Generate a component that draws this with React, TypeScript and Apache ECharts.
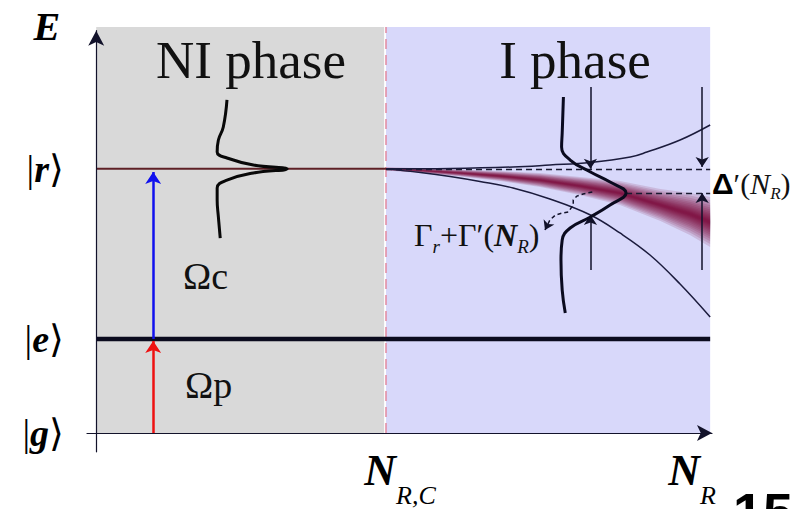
import { useEffect, useRef } from "react";
import * as echarts from "echarts";

const SERIF = '"Liberation Serif", "Times New Roman", serif';
const SANS = '"Liberation Sans", Arial, sans-serif';

// Energy scale: |g> = 0, |e> = 1, |r> sits higher up
const levelKeys = ["g", "e", "r"];
const levelEnergies = [0, 1, 2.81];

// Normalized Rydberg excitation number; N_R,C separates the two phases
const nRC = 0.472;
const nMax = 1;
const eTop = 4.32;
const nTickValues = [nRC, nMax];
const nTickSubs = ["R,C", "R"];

const phaseStarts = [0, 0.472];
const phaseEnds = [0.469, 1];
const phaseTitles = ["NI phase", "I phase"];

// Lorentzian line profile in the NI phase, [N_R, E]
const niProfile = [
  [0.213, 3.543], [0.207, 3.255], [0.199, 3.117], [0.197, 2.989], [0.213, 2.926],
  [0.256, 2.851], [0.311, 2.81], [0.256, 2.766], [0.213, 2.691], [0.197, 2.606],
  [0.197, 2.479], [0.199, 2.298], [0.202, 2.074],
];

// Shifted, broadened profile in the I phase
const iProfile = [
  [0.761, 3.574], [0.759, 3.191], [0.758, 3.043], [0.772, 2.904], [0.805, 2.777],
  [0.837, 2.67], [0.863, 2.553], [0.837, 2.426], [0.805, 2.298], [0.772, 2.181],
  [0.759, 2.053], [0.757, 1.84], [0.759, 1.521], [0.764, 1.277],
];

// Width envelope of the Rydberg line beyond N_R,C
const upperBranch = [
  [0.472, 2.81], [0.5765, 2.814], [0.679, 2.83], [0.739, 2.851], [0.805, 2.878],
  [0.87, 2.936], [0.897, 2.989], [0.951, 3.117], [1.0, 3.277],
];
const lowerBranch = [
  [0.472, 2.81], [0.528, 2.771], [0.5765, 2.729], [0.625, 2.676], [0.679, 2.606],
  [0.739, 2.489], [0.805, 2.319], [0.853, 2.128], [0.902, 1.894], [0.951, 1.585],
  [1.0, 1.234],
];

// Broadened Rydberg line: center and half-width along N_R
const bandN = [0.472, 0.528, 0.593, 0.658, 0.723, 0.788, 0.853, 0.919, 0.967, 1.0];
const bandCenter = [2.81, 2.793, 2.766, 2.734, 2.691, 2.628, 2.553, 2.426, 2.33, 2.245];
const bandHalfWidth = [0.016, 0.027, 0.037, 0.053, 0.074, 0.096, 0.128, 0.17, 0.223, 0.266];

// Laser couplings
const pumpN = 0.0928;
const probeArrow = [[pumpN, 0], [pumpN, 0.979]];
const couplingArrow = [[pumpN, 1], [pumpN, 2.777]];

// Shift / width markers in the I phase
const markerArrows = [
  [[0.805, 3.681], [0.805, 2.81]],
  [[0.805, 1.734], [0.805, 2.319]],
  [[0.987, 3.681], [0.987, 2.83]],
  [[0.987, 1.734], [0.987, 2.553]],
];
const shiftGuides = [
  [[0.472, 2.81], [1.0, 2.81]],
  [[0.863, 2.553], [1.0, 2.553]],
];
const widthPointer = [
  [0.808, 2.564], [0.793, 2.543], [0.783, 2.521], [0.777, 2.479], [0.777, 2.426],
  [0.769, 2.351], [0.759, 2.34], [0.748, 2.319], [0.739, 2.266], [0.735, 2.213],
];
const widthPointerTip = [[0.735, 2.213], [0.731, 2.16]];

const INK = "#12122a";

function curve(data: number[][], color: string, width: number, smooth: number | boolean, z = 4) {
  return {
    type: "line",
    data,
    symbol: "none",
    showSymbol: false,
    smooth,
    clip: false,
    silent: true,
    z,
    lineStyle: { color, width },
  };
}

function buildOption() {
  // nested envelopes give the line a peaked, soft cross-section
  const bandLayers = [1.0, 0.88, 0.77, 0.67, 0.58, 0.5, 0.42, 0.35, 0.29, 0.23, 0.18, 0.13, 0.09, 0.05];
  const phaseFill = ["#d9d9d9", "#d8d8fa"];

  return {
    animation: false,
    grid: {
      left: 87,
      right: 84,
      top: 30.7,
      bottom: 57.2,
      containLabel: false,
      outerBoundsMode: "none",
    },
    xAxis: {
      type: "value",
      min: -0.015,
      max: 1.003,
      z: 10,
      axisLine: {
        onZero: true,
        symbol: ["none", "arrow"],
        symbolSize: [12, 15],
        lineStyle: { color: INK, width: 1.2 },
      },
      axisTick: { show: false },
      splitLine: { show: false },
      axisLabel: {
        customValues: nTickValues,
        margin: -19,
        formatter: (v: number) => {
          const i = nTickValues.indexOf(v);
          const k = i === 0 ? "A" : "B";
          return `{n${k}|N}{s${k}|${nTickSubs[i] ?? ""}}`;
        },
        rich: {
          nA: { fontFamily: SERIF, fontSize: 44, fontWeight: "bold", fontStyle: "italic", color: "#000", padding: [0, 0, 0, 28] },
          sA: { fontFamily: SERIF, fontSize: 26, fontStyle: "italic", color: "#000", padding: [50, 0, 0, 0] },
          nB: { fontFamily: SERIF, fontSize: 44, fontWeight: "bold", fontStyle: "italic", color: "#000" },
          sB: { fontFamily: SERIF, fontSize: 26, fontStyle: "italic", color: "#000", padding: [50, 36, 0, 0] },
        },
      },
    },
    yAxis: {
      type: "value",
      min: -0.2,
      max: 4.28,
      z: 10,
      name: "E",
      nameLocation: "end",
      nameGap: 4,
      nameTextStyle: {
        fontFamily: SERIF,
        fontSize: 40,
        fontWeight: "bold",
        fontStyle: "italic",
        color: "#000",
        align: "right",
        verticalAlign: "middle",
        padding: [0, 36, 0, 0],
      },
      axisLine: {
        onZero: true,
        symbol: ["none", "arrow"],
        symbolSize: [12, 15],
        lineStyle: { color: INK, width: 1.2 },
      },
      axisTick: { show: false },
      splitLine: { show: false },
      axisLabel: {
        customValues: levelEnergies,
        margin: 23,
        formatter: (v: number) => {
          const i = levelEnergies.indexOf(v);
          return `{b||}{v|${levelKeys[i] ?? ""}}{b|⟩}`;
        },
        rich: {
          b: { fontFamily: SERIF, fontSize: 38, color: "#000" },
          v: { fontFamily: SERIF, fontSize: 38, fontWeight: "bold", fontStyle: "italic", color: "#000" },
        },
      },
    },
    series: [
      // Phase backgrounds
      {
        type: "custom",
        silent: true,
        clip: false,
        z: 0,
        data: phaseStarts.map((s, i) => [s, phaseEnds[i]]),
        renderItem: (params: any, api: any) => {
          const p0 = api.coord([api.value(0), eTop]);
          const p1 = api.coord([api.value(1), 0]);
          return {
            type: "rect",
            shape: { x: p0[0], y: p0[1], width: p1[0] - p0[0], height: p1[1] - p0[1] },
            style: { fill: phaseFill[params.dataIndex] },
          };
        },
      },
      // Broadened Rydberg line, drawn as nested translucent envelopes
      {
        type: "custom",
        silent: true,
        clip: false,
        z: 1,
        data: bandLayers.map((k) => [nRC, levelEnergies[2], k]),
        renderItem: (_params: any, api: any) => {
          const k = api.value(2);
          const top = bandN.map((n, i) => api.coord([n, bandCenter[i] + k * bandHalfWidth[i]]));
          const bottom = bandN.map((n, i) => api.coord([n, bandCenter[i] - k * bandHalfWidth[i]])).reverse();
          return {
            type: "polygon",
            shape: { points: top.concat(bottom) },
            style: { fill: "#7a0030", opacity: 0.14 },
          };
        },
      },
      // Phase boundary at N_R,C
      {
        type: "line",
        data: [[nRC, 0], [nRC, eTop]],
        symbol: "none",
        clip: false,
        silent: true,
        z: 2,
        lineStyle: { color: "#e38aa0", width: 1.5, type: [10, 6] },
      },
      // |e> level
      curve([[0, levelEnergies[1]], [nMax, levelEnergies[1]]], "#0b0b1e", 4.5, false, 3),
      // |r> level in the NI phase
      curve([[0, levelEnergies[2]], [nRC, levelEnergies[2]]], "#5e2026", 2, false, 3),
      // Envelope of the broadened line
      curve(upperBranch, "#1b1b3c", 1.5, 0.4),
      curve(lowerBranch, "#1b1b3c", 1.5, 0.4),
      // Line profiles
      curve(niProfile, "#080808", 3, 0.45, 5),
      curve(iProfile, "#0a0a1e", 3, 0.45, 5),
      // Dashed guides for the shift Δ'
      {
        type: "lines",
        coordinateSystem: "cartesian2d",
        silent: true,
        z: 4,
        symbol: "none",
        lineStyle: { color: "#1a1a30", width: 1.4, type: [6, 4], opacity: 1 },
        data: shiftGuides.map((c) => ({ coords: c })),
      },
      // Marker arrows
      {
        type: "lines",
        coordinateSystem: "cartesian2d",
        silent: true,
        z: 5,
        symbol: ["none", "arrow"],
        symbolSize: 10,
        lineStyle: { color: INK, width: 1.5, opacity: 1 },
        data: markerArrows.map((c) => ({ coords: c })),
      },
      // Pointer to the width label
      {
        type: "lines",
        coordinateSystem: "cartesian2d",
        polyline: true,
        silent: true,
        z: 5,
        lineStyle: { color: INK, width: 1.5, type: [4, 3], opacity: 1 },
        data: [{ coords: widthPointer }],
      },
      {
        type: "lines",
        coordinateSystem: "cartesian2d",
        silent: true,
        z: 5,
        symbol: ["none", "arrow"],
        symbolSize: 9,
        lineStyle: { color: INK, width: 1.5, opacity: 1 },
        data: [{ coords: widthPointerTip }],
      },
      // Probe (Ωp) and coupling (Ωc) lasers
      {
        type: "lines",
        coordinateSystem: "cartesian2d",
        silent: true,
        z: 6,
        symbol: ["none", "arrow"],
        symbolSize: 12,
        data: [
          { coords: probeArrow, lineStyle: { color: "#ee1111", width: 2.5, opacity: 1 } },
          { coords: couplingArrow, lineStyle: { color: "#1111ee", width: 2.5, opacity: 1 } },
        ],
      },
    ],
    graphic: [
      {
        type: "text",
        x: 251,
        y: 60,
        z: 20,
        style: { text: phaseTitles[0], fontFamily: SERIF, fontSize: 53, fill: "#111", align: "center", verticalAlign: "middle" },
      },
      {
        type: "text",
        x: 575,
        y: 60,
        z: 20,
        style: { text: phaseTitles[1], fontFamily: SERIF, fontSize: 53, fill: "#111", align: "center", verticalAlign: "middle" },
      },
      {
        type: "text",
        x: 183,
        y: 276,
        z: 20,
        style: { text: "Ωc", fontFamily: SERIF, fontSize: 38, fill: "#111", align: "left", verticalAlign: "middle" },
      },
      {
        type: "text",
        x: 185,
        y: 385,
        z: 20,
        style: { text: "Ωp", fontFamily: SERIF, fontSize: 38, fill: "#111", align: "left", verticalAlign: "middle" },
      },
      {
        type: "text",
        x: 414,
        y: 235,
        z: 20,
        style: {
          text: "{g|Γ}{s|r}{g|+Γ′(}{n|N}{s|R}{g|)}",
          align: "left",
          verticalAlign: "middle",
          rich: {
            g: { fontFamily: SERIF, fontSize: 32, fill: "#111" },
            n: { fontFamily: SERIF, fontSize: 32, fontWeight: "bold", fontStyle: "italic", fill: "#111" },
            s: { fontFamily: SERIF, fontSize: 19, fontStyle: "italic", fill: "#111", padding: [22, 0, 0, 0] },
          },
        },
      },
      {
        type: "text",
        x: 712,
        y: 183,
        z: 20,
        style: {
          text: "{d|Δ}{p|′(}{n|N}{s|R}{p|)}",
          align: "left",
          verticalAlign: "middle",
          rich: {
            d: { fontFamily: SANS, fontSize: 30, fontWeight: "bold", fill: "#000" },
            p: { fontFamily: SERIF, fontSize: 30, fill: "#111" },
            n: { fontFamily: SERIF, fontSize: 30, fontStyle: "italic", fill: "#111" },
            s: { fontFamily: SERIF, fontSize: 17, fontStyle: "italic", fill: "#111", padding: [20, 0, 0, 0] },
          },
        },
      },
      {
        type: "text",
        x: 733,
        y: 512,
        z: 20,
        style: { text: "15", fontFamily: SANS, fontSize: 54, fontWeight: "bold", fill: "#000", align: "left", verticalAlign: "middle" },
      },
    ],
  };
}

export default function App() {
  const ref = useRef<HTMLDivElement>(null);
  useEffect(() => {
    if (!ref.current) return;
    const chart = echarts.init(ref.current, null, { renderer: "svg" });
    chart.setOption(buildOption() as any);
    return () => chart.dispose();
  }, []);
  return (
    <div
      ref={ref}
      style={{ position: "fixed", left: 0, top: 0, width: 796, height: 509, background: "#fff" }}
    />
  );
}
